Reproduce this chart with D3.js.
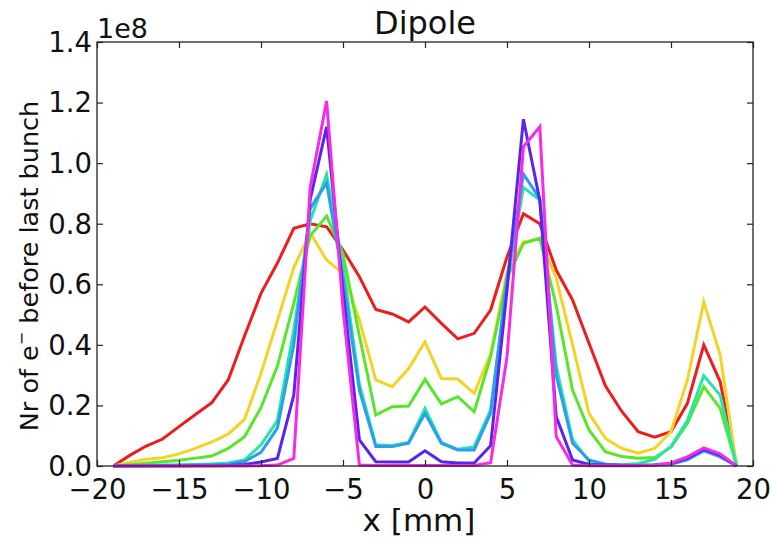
<!DOCTYPE html>
<html><head><meta charset="utf-8">
<script src="https://cdn.jsdelivr.net/npm/d3@7"></script>
<style>body{margin:0;background:#fff;} svg{display:block;font-family:"DejaVu Sans",sans-serif;}</style>
</head><body>
<svg id="c" width="772" height="540"></svg>
<script>
const xPositions = [-19,-18,-17,-16,-15,-14,-13,-12,-11,-10,-9,-8,-7,-6,-5,-4,-3,-2,-1,0,1,2,3,4,5,6,7,8,9,10,11,12,13,14,15,16,17,18,19];
const seriesRed     = [0,0.035,0.066,0.089,0.13,0.17,0.209,0.284,0.43,0.57,0.67,0.785,0.80,0.79,0.713,0.625,0.517,0.502,0.476,0.525,0.471,0.42,0.438,0.515,0.69,0.833,0.80,0.647,0.548,0.405,0.265,0.18,0.113,0.095,0.113,0.207,0.40,0.278,0];
const seriesYellow  = [0,0.012,0.022,0.027,0.04,0.058,0.08,0.105,0.154,0.306,0.48,0.655,0.77,0.68,0.636,0.482,0.284,0.262,0.322,0.41,0.289,0.287,0.24,0.37,0.64,0.74,0.75,0.62,0.40,0.174,0.091,0.058,0.042,0.058,0.113,0.284,0.542,0.366,0];
const seriesGreen   = [0,0.004,0.009,0.014,0.019,0.026,0.033,0.058,0.097,0.193,0.33,0.537,0.76,0.825,0.70,0.43,0.168,0.196,0.198,0.286,0.205,0.229,0.179,0.36,0.62,0.735,0.752,0.53,0.25,0.119,0.047,0.031,0.026,0.028,0.062,0.14,0.262,0.19,0];
const seriesTeal    = [0,0.001,0.002,0.003,0.004,0.005,0.007,0.01,0.02,0.07,0.15,0.45,0.81,0.962,0.66,0.27,0.07,0.068,0.078,0.19,0.078,0.055,0.064,0.185,0.60,0.92,0.878,0.33,0.086,0.015,0.006,0.004,0.008,0.022,0.065,0.15,0.298,0.234,0];
const seriesBlue    = [0,0.001,0.001,0.002,0.002,0.003,0.004,0.006,0.015,0.045,0.125,0.40,0.85,0.935,0.62,0.25,0.064,0.064,0.075,0.174,0.075,0.053,0.053,0.174,0.62,0.964,0.883,0.30,0.075,0.02,0.006,0.003,0.002,0.003,0.006,0.02,0.05,0.03,0];
const seriesViolet  = [0,0,0,0,0,0.001,0.001,0.002,0.005,0.013,0.025,0.234,0.88,1.12,0.58,0.086,0.014,0.013,0.013,0.05,0.014,0.01,0.01,0.067,0.58,1.145,0.878,0.163,0.02,0.005,0.003,0.002,0.002,0.003,0.008,0.025,0.055,0.035,0];
const seriesMagenta = [0,0,0,0,0,0,0,0,0,0.001,0.003,0.025,0.92,1.205,0.52,0.003,0.002,0.002,0.002,0.002,0.002,0.002,0.002,0.011,0.36,1.054,1.12,0.097,0.003,0.001,0.001,0.001,0.001,0.003,0.01,0.03,0.06,0.04,0];
const seriesColors = ["#ee1d1d","#f5d226","#5ae52d","#25e6a8","#2b9ef2","#5a24ee","#f82be4"];
const xTicks = [-20,-15,-10,-5,0,5,10,15,20];
const yTicks = [0,0.2,0.4,0.6,0.8,1.0,1.2,1.4];
const allSeries = [seriesRed,seriesYellow,seriesGreen,seriesTeal,seriesBlue,seriesViolet,seriesMagenta];

const svg = d3.select("#c");
const L=97,R=753,T=42,B=466;
const x = d3.scaleLinear().domain([-20,20]).range([L,R]);
const y = d3.scaleLinear().domain([0,1.4]).range([B,T]);

const g = svg.append("g");
const line = d3.line().x((d,i)=>x(xPositions[i])).y(d=>y(d));
allSeries.forEach((s,k)=>{
  g.append("path").datum(s).attr("d",line).attr("fill","none")
   .attr("stroke",seriesColors[k]).attr("stroke-width",3).attr("stroke-linejoin","miter");
});

const tl=6, axCol="#222";
svg.append("rect").attr("x",L).attr("y",T).attr("width",R-L).attr("height",B-T)
  .attr("fill","none").attr("stroke",axCol).attr("stroke-width",1.3);
const fs=27.5;
const xb = svg.append("g").attr("transform",`translate(0,${B})`)
  .call(d3.axisBottom(x).tickValues(xTicks).tickSize(-tl).tickPadding(13).tickFormat(d=>d<0?"\u2212"+Math.abs(d):d));
const xt = svg.append("g").attr("transform",`translate(0,${T})`)
  .call(d3.axisTop(x).tickValues(xTicks).tickSize(-tl).tickFormat(""));
const yl = svg.append("g").attr("transform",`translate(${L},0)`)
  .call(d3.axisLeft(y).tickValues(yTicks).tickSize(-tl).tickPadding(5).tickFormat(d3.format(".1f")));
const yr = svg.append("g").attr("transform",`translate(${R},0)`)
  .call(d3.axisRight(y).tickValues(yTicks).tickSize(-tl).tickFormat(""));
[xb,xt,yl,yr].forEach(a=>{
  a.select(".domain").remove();
  a.selectAll("line").attr("stroke",axCol).attr("stroke-width",1.2);
  a.selectAll("text").attr("font-size",fs).attr("fill","#111").attr("font-family","DejaVu Sans");
});
xb.selectAll("text").attr("dy","0.72em");
yl.selectAll("text").attr("dy","0.34em");

svg.append("text").attr("x",(L+R)/2).attr("y",34).attr("text-anchor","middle")
  .attr("font-size",32).attr("fill","#111").text("Dipole");
svg.append("text").attr("x",L).attr("y",38).attr("font-size",27).attr("fill","#111").text("1e8");
svg.append("text").attr("x",(L+R)/2 - 6).attr("y",531).attr("text-anchor","middle")
  .attr("font-size",31).attr("fill","#111").text("x [mm]");
const yt = svg.append("text").attr("transform",`translate(38,266) rotate(-90)`)
  .attr("text-anchor","middle").attr("font-size",25.5).attr("fill","#111");
yt.append("tspan").text("Nr of e");
yt.append("tspan").attr("dy",-11).attr("font-size",16).text("\u2212");
yt.append("tspan").attr("dy",11).text(" before last bunch");
</script>
</body></html>
